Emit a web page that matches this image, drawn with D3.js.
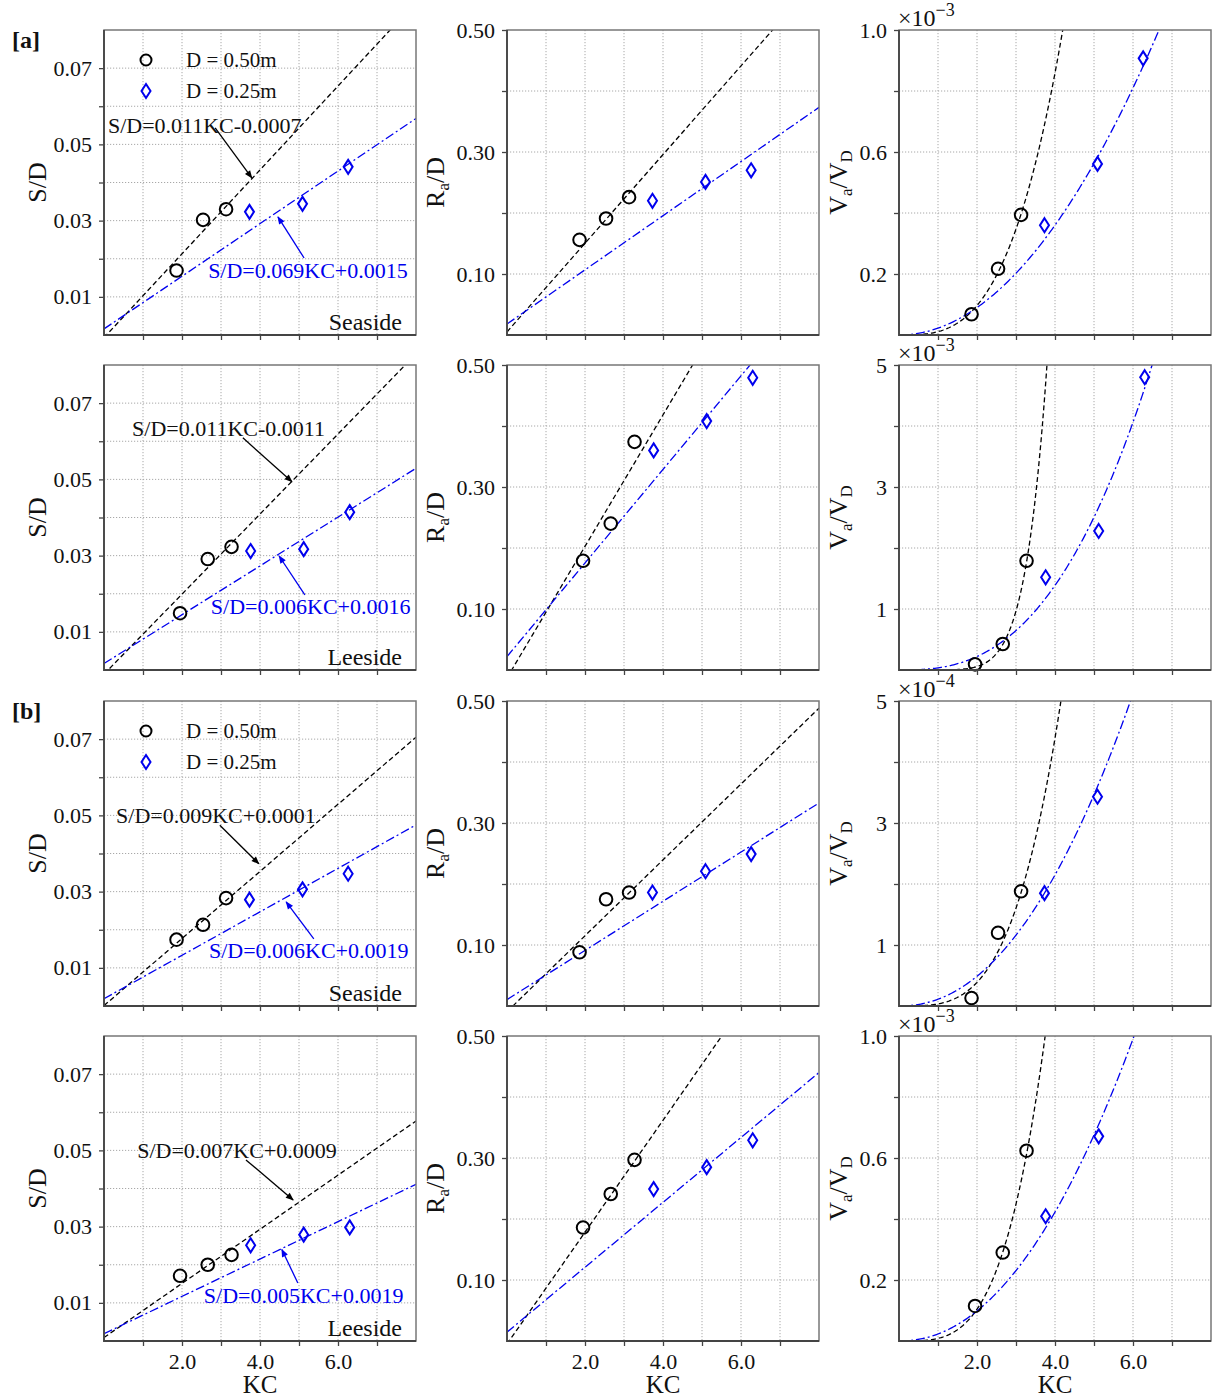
<!DOCTYPE html>
<html>
<head>
<meta charset="utf-8">
<script src="https://cdn.jsdelivr.net/npm/d3@7"></script>
<style>
body{margin:0;background:#fff;}
svg text{font-family:"Liberation Serif","Times New Roman",serif;fill:#111;}
</style>
</head>
<body>
<svg id="fig" width="1229" height="1400"></svg>
<script>
// KC of the test points (seaside / leeside, D = 0.50m / 0.25m)
var kcSea50 = [1.86, 2.54, 3.13], kcSea25 = [3.73, 5.09, 6.26];
var kcLee50 = [1.95, 2.66, 3.27], kcLee25 = [3.76, 5.12, 6.30];

// S/D  rows: [a] seaside, [a] leeside, [b] seaside, [b] leeside
var sd50 = [[0.0169, 0.0302, 0.0330], [0.0149, 0.0291, 0.0323], [0.0174, 0.0213, 0.0283], [0.0171, 0.0200, 0.0226]];
var sd25 = [[0.0323, 0.0344, 0.0441], [0.0312, 0.0317, 0.0414], [0.0279, 0.0306, 0.0347], [0.0251, 0.0279, 0.0298]];
// Ra/D
var ra50 = [[0.156, 0.191, 0.226], [0.179, 0.240, 0.374], [0.088, 0.175, 0.186], [0.186, 0.241, 0.297]];
var ra25 = [[0.220, 0.251, 0.270], [0.360, 0.408, 0.479], [0.186, 0.221, 0.249], [0.249, 0.285, 0.329]];
// Va/VD, in the units of each panel (x10^-3, x10^-3, x10^-4, x10^-3)
var va50 = [[0.068, 0.217, 0.394], [0.093, 0.426, 1.79], [0.13, 1.20, 1.88], [0.115, 0.29, 0.624]];
var va25 = [[0.360, 0.561, 0.907], [1.52, 2.28, 4.80], [1.85, 3.43], [0.409, 0.671]];

// fitted lines [slope, intercept] and power curves [a, b] (a*KC^b)
var sdFit50 = [[0.011, -0.0007], [0.0105, -0.0011], [0.0088, 0.0001], [0.0071, 0.0009]];
var sdFit25 = [[0.0069, 0.0016], [0.0064, 0.0017], [0.0057, 0.0019], [0.0049, 0.0019]];
var raFit50 = [[0.0727, 0.005], [0.1078, -0.013], [0.0622, -0.0093], [0.0917, -0.005]];
var raFit25 = [[0.0444, 0.018], [0.0767, 0.022], [0.0403, 0.0105], [0.0532, 0.0145]];
var vaFit50 = [[0.0109, 3.15], [0.000442, 7.0], [0.0343, 3.5], [0.0086, 3.6]];
var vaFit25 = [[0.0225, 2.0], [0.0352, 2.65], [0.1106, 2.14], [0.023, 2.1]];

// axes
var kcGrid = [1, 2, 3, 4, 5, 6, 7], kcLabels = [2, 4, 6];
var sdTicks = [0.01, 0.02, 0.03, 0.04, 0.05, 0.06, 0.07], sdLabels = [0.01, 0.03, 0.05, 0.07];
var raTicks = [0.1, 0.2, 0.3, 0.4, 0.5], raLabels = [0.1, 0.3, 0.5];
var vaMax = [1.0, 5, 5, 1.0];
var vaExp = ["\u22123", "\u22123", "\u22124", "\u22123"];
var vaTicks = [[0.2, 0.4, 0.6, 0.8, 1.0], [1, 2, 3, 4, 5], [1, 2, 3, 4, 5], [0.2, 0.4, 0.6, 0.8, 1.0]];
var vaLabels = [[0.2, 0.6, 1.0], [1, 3, 5], [1, 3, 5], [0.2, 0.6, 1.0]];
var vaFmt = [".1f", "d", "d", ".1f"];

var sides = ["Seaside", "Leeside", "Seaside", "Leeside"];
var tags = ["[a]", "", "[b]", ""];
var eqBlack = ["S/D=0.011KC-0.0007", "S/D=0.011KC-0.0011", "S/D=0.009KC+0.0001", "S/D=0.007KC+0.0009"];
var eqBlue = ["S/D=0.069KC+0.0015", "S/D=0.006KC+0.0016", "S/D=0.006KC+0.0019", "S/D=0.005KC+0.0019"];

// annotation anchors (KC, S/D)
var eqBlackAt = [[0.1, 0.0551], [0.72, 0.0635], [0.31, 0.0501], [0.85, 0.0501]];
var eqBlueAt = [[2.67, 0.0170], [2.74, 0.0166], [2.69, 0.0147], [2.56, 0.0119]];
var arrBlack = [[2.85, 0.0543, 3.79, 0.0412], [3.56, 0.0609, 4.82, 0.0494], [2.97, 0.0474, 3.97, 0.0373], [3.64, 0.0475, 4.85, 0.0370]];
var arrBlue = [[5.13, 0.0202, 4.46, 0.0310], [5.15, 0.0197, 4.49, 0.0299], [5.38, 0.0176, 4.67, 0.0273], [4.97, 0.0152, 4.56, 0.0240]];

var colLeft = [104, 507, 899], rowTop = [30, 365, 701, 1036];
var W = 312, H = 305;
var BLUE = "#0000ee";

var svg = d3.select("#fig");
var defs = svg.append("defs");
function arrowDef(id, col) {
  defs.append("marker").attr("id", id)
    .attr("viewBox", "0 0 10 10").attr("refX", 9).attr("refY", 5)
    .attr("markerWidth", 10).attr("markerHeight", 8)
    .attr("markerUnits", "userSpaceOnUse").attr("orient", "auto")
    .append("path").attr("d", "M0,1 L10,5 L0,9 Z").attr("fill", col);
}
arrowDef("ahBlack", "#000");
arrowDef("ahBlue", BLUE);

function diamond(cx, cy) {
  var p = d3.path();
  p.moveTo(cx, cy - 7); p.lineTo(cx + 4.5, cy); p.lineTo(cx, cy + 7); p.lineTo(cx - 4.5, cy); p.closePath();
  return p.toString();
}
function has(arr, v) { return arr.some(function(a) { return Math.abs(a - v) < 1e-9; }); }

function panel(r, c) {
  var g = svg.append("g").attr("transform", "translate(" + colLeft[c] + "," + rowTop[r] + ")");
  var x = d3.scaleLinear().domain([0, 8]).range([0, W]);
  var top, ticks, labels, fmt, f50, f25, d50, d25, curve = false;
  if (c === 0) { top = 0.08; ticks = sdTicks; labels = sdLabels; fmt = d3.format(".2f"); f50 = sdFit50[r]; f25 = sdFit25[r]; d50 = sd50[r]; d25 = sd25[r]; }
  if (c === 1) { top = 0.5; ticks = raTicks; labels = raLabels; fmt = d3.format(".2f"); f50 = raFit50[r]; f25 = raFit25[r]; d50 = ra50[r]; d25 = ra25[r]; }
  if (c === 2) { top = vaMax[r]; ticks = vaTicks[r]; labels = vaLabels[r]; fmt = d3.format(vaFmt[r]); f50 = vaFit50[r]; f25 = vaFit25[r]; d50 = va50[r]; d25 = va25[r]; curve = true; }
  var y = d3.scaleLinear().domain([0, top]).range([H, 0]);
  var k50 = (r % 2 === 0) ? kcSea50 : kcLee50;
  var k25 = (r % 2 === 0) ? kcSea25 : kcLee25;

  var cid = "clip" + r + c;
  defs.append("clipPath").attr("id", cid).append("rect").attr("width", W).attr("height", H);

  // grid
  g.selectAll(".vg").data(kcGrid).enter().append("line")
    .attr("x1", function(d) { return x(d); }).attr("x2", function(d) { return x(d); })
    .attr("y1", 0).attr("y2", H)
    .attr("stroke", "#a8a8a8").attr("stroke-width", 1).attr("stroke-dasharray", "1.2,1.8");
  g.selectAll(".hg").data(ticks.filter(function(d) { return d < top - 1e-9; })).enter().append("line")
    .attr("y1", function(d) { return y(d); }).attr("y2", function(d) { return y(d); })
    .attr("x1", 0).attr("x2", W)
    .attr("stroke", "#a8a8a8").attr("stroke-width", 1).attr("stroke-dasharray", "1.2,1.8");

  // axes
  var ya = g.append("g").call(d3.axisLeft(y).tickValues(ticks).tickSize(5).tickPadding(7)
    .tickFormat(function(d) { return has(labels, d) ? fmt(d) : ""; }));
  var xa = g.append("g").attr("transform", "translate(0," + H + ")")
    .call(d3.axisBottom(x).tickValues(kcGrid).tickSize(5).tickPadding(7)
    .tickFormat(function(d) { return (r === 3 && has(kcLabels, d)) ? d3.format(".1f")(d) : ""; }));
  [ya, xa].forEach(function(a) {
    a.select(".domain").remove();
    a.selectAll("line").attr("stroke", "#444").attr("stroke-width", 1.3);
    a.selectAll("text").attr("font-size", 22).attr("font-family", "Liberation Serif").attr("fill", "#111");
  });

  // fits
  var pts = curve ? d3.range(0, 8.001, 0.04) : [0, 8];
  function fitLine(f) {
    return d3.line()
      .x(function(k) { return x(k); })
      .y(function(k) { return y(curve ? f[0] * Math.pow(k, f[1]) : f[0] * k + f[1]); })(pts);
  }
  var cg = g.append("g").attr("clip-path", "url(#" + cid + ")");
  cg.append("path").attr("d", fitLine(f50)).attr("fill", "none")
    .attr("stroke", "#000").attr("stroke-width", 1.3).attr("stroke-dasharray", "5,3");
  cg.append("path").attr("d", fitLine(f25)).attr("fill", "none")
    .attr("stroke", BLUE).attr("stroke-width", 1.3).attr("stroke-dasharray", "9,3,2,3");

  // points
  g.selectAll(".c50").data(d50).enter().append("circle")
    .attr("cx", function(d, i) { return x(k50[i]); }).attr("cy", function(d) { return y(d); })
    .attr("r", 6.3).attr("fill", "none").attr("stroke", "#000").attr("stroke-width", 2);
  g.selectAll(".d25").data(d25).enter().append("path")
    .attr("d", function(d, i) { return diamond(x(k25[i]), y(d)); })
    .attr("fill", "none").attr("stroke", BLUE).attr("stroke-width", 2);

  // frame: left/bottom darker, like the original
  g.append("rect").attr("width", W).attr("height", H).attr("fill", "none")
    .attr("stroke", "#777").attr("stroke-width", 1.5);
  g.append("path").attr("d", "M0,0 V" + H + " H" + W).attr("fill", "none")
    .attr("stroke", "#444").attr("stroke-width", 1.8);

  // y label
  var yl = g.append("text").attr("transform", "translate(" + [-67, -72, -61][c] + "," + (H / 2) + ") rotate(-90)")
    .attr("text-anchor", "middle").attr("dy", "0.35em").attr("font-size", 26);
  if (c === 0) yl.text("S/D");
  if (c === 1) {
    yl.append("tspan").text("R");
    yl.append("tspan").attr("font-size", 17).attr("dy", 5).text("a");
    yl.append("tspan").attr("dy", -5).text("/D");
  }
  if (c === 2) {
    yl.append("tspan").text("V");
    yl.append("tspan").attr("font-size", 17).attr("dy", 5).text("a");
    yl.append("tspan").attr("dy", -5).text("/V");
    yl.append("tspan").attr("font-size", 17).attr("dy", 5).text("D");
  }

  if (c === 2) {
    var m = g.append("text").attr("x", -1).attr("y", -4).attr("font-size", 24);
    m.append("tspan").text("\u00d710");
    m.append("tspan").attr("font-size", 18).attr("dy", -10).text(vaExp[r]);
  }
  if (r === 3) {
    g.append("text").attr("x", W / 2).attr("y", H + 52).attr("text-anchor", "middle")
      .attr("font-size", 25).text("KC");
  }

  if (c === 0) {
    g.append("text").attr("x", W - 14).attr("y", H - 5).attr("text-anchor", "end")
      .attr("font-size", 24).text(sides[r]);
    if (tags[r]) {
      g.append("text").attr("x", -92).attr("y", 18).attr("font-size", 24).attr("font-weight", "bold").text(tags[r]);
      g.append("circle").attr("cx", 42).attr("cy", 30).attr("r", 5.5)
        .attr("fill", "none").attr("stroke", "#000").attr("stroke-width", 2);
      g.append("path").attr("d", diamond(42, 61)).attr("fill", "none").attr("stroke", BLUE).attr("stroke-width", 2);
      g.append("text").attr("x", 82).attr("y", 30).attr("dy", "0.35em").attr("font-size", 21).text("D = 0.50m");
      g.append("text").attr("x", 82).attr("y", 61).attr("dy", "0.35em").attr("font-size", 21).text("D = 0.25m");
    }
    g.append("text").attr("x", x(eqBlackAt[r][0])).attr("y", y(eqBlackAt[r][1])).attr("dy", "0.35em")
      .attr("font-size", 22).text(eqBlack[r]);
    g.append("text").attr("x", x(eqBlueAt[r][0])).attr("y", y(eqBlueAt[r][1])).attr("dy", "0.35em")
      .attr("font-size", 22).style("fill", BLUE).text(eqBlue[r]);
    var a = arrBlack[r], b = arrBlue[r];
    g.append("line").attr("x1", x(a[0])).attr("y1", y(a[1])).attr("x2", x(a[2])).attr("y2", y(a[3]))
      .attr("stroke", "#000").attr("stroke-width", 1.3).attr("marker-end", "url(#ahBlack)");
    g.append("line").attr("x1", x(b[0])).attr("y1", y(b[1])).attr("x2", x(b[2])).attr("y2", y(b[3]))
      .attr("stroke", BLUE).attr("stroke-width", 1.3).attr("marker-end", "url(#ahBlue)");
  }
}

for (var r = 0; r < 4; r++) {
  for (var c = 0; c < 3; c++) panel(r, c);
}
</script>
</body>
</html>
